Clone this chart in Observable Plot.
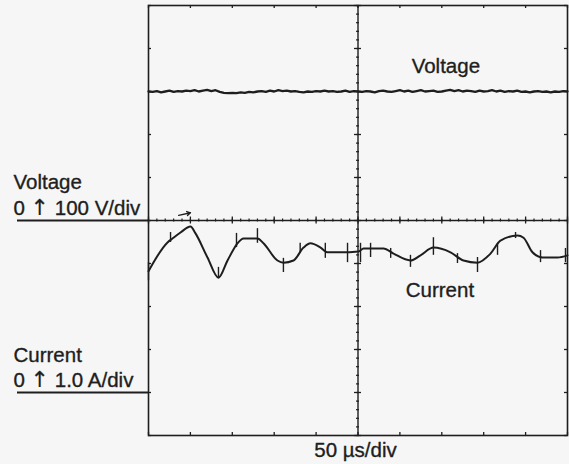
<!DOCTYPE html>
<html>
<head>
<meta charset="utf-8">
<script src="https://cdn.jsdelivr.net/npm/d3@7"></script>
<script src="https://cdn.jsdelivr.net/npm/@observablehq/plot@0.6"></script>
<style>
  html, body { margin: 0; padding: 0; background: #f6f6f6; }
  #chart svg { display: block; }
</style>
</head>
<body>
<div id="chart"></div>
<script>
// Oscilloscope capture: 50 µs/div time base, voltage 100 V/div, current 1.0 A/div.

// Voltage trace (V), sampled every 5 µs from 0 to 500 µs
const voltageTime = d3.range(0, 501, 5);
const voltageValues = [
  300, 299, 301, 298, 300, 302, 299, 301, 300, 302, 301, 303, 300, 302, 304, 301, 303, 299,
  297, 296, 297, 296, 298, 297, 299, 298, 300, 301, 299, 302, 300, 303, 301, 302, 300, 301,
  299, 298, 300, 299, 301, 300, 302, 300, 301, 299, 300, 302, 299, 301, 300, 299, 301, 300,
  298, 301, 302, 300, 299, 301, 303, 300, 302, 299, 301, 303, 300, 301, 302, 299, 300, 302,
  304, 301, 303, 300, 302, 301, 299, 302, 300, 301, 303, 300, 302, 299, 301, 300, 302, 299,
  300, 298, 300, 301, 299, 300, 298, 300, 299, 301, 300
];

// Current trace (A)
const currentTime = [
  0, 22.7, 28.6, 38.2, 50.1, 56.1, 70.4, 83.5, 94.3, 106.2, 113.4, 130.1, 137.2, 153.9, 161.1,
  173.0, 185.0, 193.3, 205.3, 213.6, 229.1, 250.6, 256.6, 280.4, 292.4, 312.6, 324.6, 340.1,
  360.4, 375.9, 392.6, 408.1, 420.0, 440.3, 447.5, 458.2, 470.2, 488.1, 500
];
const currentValues = [
  2.82, 3.49, 3.58, 3.72, 3.86, 3.70, 3.14, 2.67, 3.07, 3.47, 3.58, 3.58, 3.47, 3.07, 3.02,
  3.07, 3.37, 3.47, 3.37, 3.26, 3.26, 3.28, 3.35, 3.35, 3.23, 3.07, 3.19, 3.37,
  3.26, 3.07, 3.02, 3.23, 3.53, 3.65, 3.60, 3.26, 3.14, 3.14, 3.19
];

// Glitch spikes on the current trace (A)
const spikeTime = [0, 26.3, 83.5, 105, 130, 161, 181, 211, 237.5, 253, 265, 289, 312.6, 340, 368.7, 392.6, 416.5, 438, 467.8, 497.6];
const spikeLow  = [2.60, 3.49, 2.65, 3.37, 3.47, 2.79, 3.23, 3.12, 3.02, 3.02, 3.14, 3.12, 2.91, 3.19, 3.00, 2.79, 3.19, 3.58, 3.02, 3.02];
const spikeHigh = [3.02, 3.72, 2.91, 3.70, 3.81, 3.12, 3.47, 3.47, 3.47, 3.47, 3.47, 3.35, 3.19, 3.60, 3.23, 3.14, 3.47, 3.72, 3.30, 3.35];

// Trigger marker (time µs, current A)
const triggerFrom = [36, 4.12];
const triggerTo = [50.1, 4.18];

// Scale settings per channel: volts/div and amps/div, with ground offsets in divisions
const voltsPerDiv = 100, voltageGround = 0;
const ampsPerDiv = 1.0, currentGround = -4;

// Screen graticule
const majorTimes = d3.range(0, 501, 50);
const minorTimes = d3.range(0, 501, 10);
const majorDivs = d3.range(-5, 6, 1);
const minorDivs = d3.range(-5, 5.001, 0.2);

// Label text
const labelTexts = ["Voltage", "0 \u2191 100 V/div", "Current", "0 \u2191 1.0 A/div"];
const traceLabels = ["Voltage", "Current"];
const timeBaseLabel = "50 \u00b5s/div";

const W = 569, H = 464;
const mL = 148, mR = 2, mT = 5, mB = 29;
const hpx = 500 / (W - mL - mR);       // µs per pixel
const vpx = 10 / (H - mT - mB);        // div per pixel
const leftLabelT = -(mL - 13) * hpx;   // left label column
const underlineStart = -(mL - 17) * hpx;

const vData = voltageTime.map((t, i) => ({t, y: voltageValues[i] / voltsPerDiv + voltageGround}));
const iData = currentTime.map((t, i) => ({t, y: currentValues[i] / ampsPerDiv + currentGround}));
const sData = spikeTime.map((t, i) => ({t, y1: spikeLow[i] / ampsPerDiv + currentGround, y2: spikeHigh[i] / ampsPerDiv + currentGround}));

const ink = "#1e1e1e";
const font = "'Liberation Sans', 'DejaVu Sans', Arial, sans-serif";

const leftLabels = [
  {text: labelTexts[0], t: leftLabelT, y: 0.74},
  {text: labelTexts[1], t: leftLabelT, y: 0.12},
  {text: labelTexts[2], t: leftLabelT, y: -3.30},
  {text: labelTexts[3], t: leftLabelT, y: -3.87}
];
const inLabels = [
  {text: traceLabels[0], t: 314, y: 3.44},
  {text: traceLabels[1], t: 307, y: -1.78}
];

const textStyle = {textAnchor: "start", lineAnchor: "bottom", fontSize: 20.5, fill: ink, stroke: ink, strokeWidth: 0.35};

const chart = Plot.plot({
  width: W, height: H,
  marginLeft: mL, marginRight: mR, marginTop: mT, marginBottom: mB,
  style: {background: "#f6f6f6", fontFamily: font, color: ink},
  x: {domain: [0, 500], axis: null},
  y: {domain: [-5, 5], axis: null},
  marks: [
    Plot.frame({stroke: ink, strokeWidth: 1.6}),
    // centre cross
    Plot.ruleX([250], {stroke: ink, strokeWidth: 1.4}),
    Plot.ruleY([0], {stroke: ink, strokeWidth: 1.4}),
    // ground reference underlines in the left margin
    Plot.ruleY([voltageGround], {x1: underlineStart, x2: 0, stroke: ink, strokeWidth: 2}),
    Plot.ruleY([currentGround], {x1: underlineStart, x2: 0, stroke: ink, strokeWidth: 2}),
    // ticks on the frame edges
    Plot.ruleX(majorTimes, {y1: 5, y2: 5 - 3 * vpx, stroke: ink, strokeWidth: 1.3}),
    Plot.ruleX(majorTimes, {y1: -5, y2: -5 + 3 * vpx, stroke: ink, strokeWidth: 1.3}),
    Plot.ruleY(majorDivs, {x1: 0, x2: 3 * hpx, stroke: ink, strokeWidth: 1.3}),
    Plot.ruleY(majorDivs, {x1: 500, x2: 500 - 3 * hpx, stroke: ink, strokeWidth: 1.3}),
    // ticks on the centre cross
    Plot.ruleX(minorTimes, {y1: -1.5 * vpx, y2: 1.5 * vpx, stroke: ink, strokeWidth: 1.2}),
    Plot.ruleX(majorTimes, {y1: -3.5 * vpx, y2: 3.5 * vpx, stroke: ink, strokeWidth: 1.3}),
    Plot.ruleY(minorDivs, {x1: 250 - 1.5 * hpx, x2: 250 + 1.5 * hpx, stroke: ink, strokeWidth: 1.2}),
    Plot.ruleY(majorDivs, {x1: 250 - 3.5 * hpx, x2: 250 + 3.5 * hpx, stroke: ink, strokeWidth: 1.3}),
    // traces
    Plot.line(vData, {x: "t", y: "y", stroke: ink, strokeWidth: 2.3, curve: "linear"}),
    Plot.line(iData, {x: "t", y: "y", stroke: ink, strokeWidth: 2, curve: "monotone-x"}),
    Plot.ruleX(sData, {x: "t", y1: "y1", y2: "y2", stroke: ink, strokeWidth: 1.4}),
    Plot.arrow([{x1: triggerFrom[0], y1: triggerFrom[1] + currentGround, x2: triggerTo[0], y2: triggerTo[1] + currentGround}],
      {x1: "x1", y1: "y1", x2: "x2", y2: "y2", stroke: ink, strokeWidth: 1.3, headLength: 6, bend: false}),
    // labels
    Plot.text(leftLabels, {x: "t", y: "y", text: "text", ...textStyle}),
    Plot.text(inLabels, {x: "t", y: "y", text: "text", ...textStyle}),
    Plot.text([timeBaseLabel], {x: 247, y: -5.51, text: d => d, ...textStyle, textAnchor: "middle"})
  ]
});

// Render the upward arrow in the scale labels with a thin, full-height glyph
d3.select(chart).selectAll("text").each(function () {
  const el = d3.select(this);
  const s = el.text();
  if (!s.includes("\u2191")) return;
  const [before, after] = s.split("\u2191");
  el.text(null);
  el.append("tspan").text(before);
  el.append("tspan").attr("font-family", "'DejaVu Sans', sans-serif").attr("font-size", 22).attr("stroke-width", 0.15).text("\u2191");
  el.append("tspan").text(after);
});

document.getElementById("chart").appendChild(chart);
</script>
</body>
</html>
